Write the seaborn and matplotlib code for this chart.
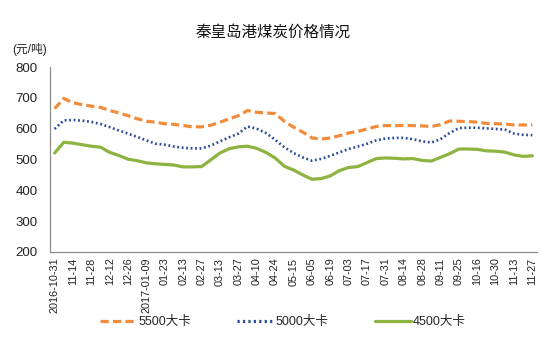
import matplotlib
matplotlib.use("Agg")
import matplotlib.pyplot as plt
import seaborn as sns
import pandas as pd

dates = ["2016-10-31", "11-07", "11-14", "11-21", "11-28", "12-05", "12-12", "12-19", "12-26",
         "2017-01-03", "01-09", "01-16", "01-23", "02-06", "02-13", "02-20", "02-27", "03-06",
         "03-13", "03-20", "03-27", "04-03", "04-10", "04-17", "04-24", "05-08", "05-15",
         "05-22", "06-05", "06-12", "06-19", "06-26", "07-03", "07-10", "07-17", "07-24",
         "07-31", "08-07", "08-14", "08-21", "08-28", "09-04", "09-11", "09-18", "09-25",
         "10-09", "10-16", "10-23", "10-30", "11-06", "11-13", "11-20", "11-27"]
tick_labels = ["2016-10-31", "11-14", "11-28", "12-12", "12-26", "2017-01-09", "01-23", "02-13",
               "02-27", "03-13", "03-27", "04-10", "04-24", "05-15", "06-05", "06-19", "07-03",
               "07-17", "07-31", "08-14", "08-28", "09-11", "09-25", "10-16", "10-30", "11-13",
               "11-27"]

p5500 = [665, 698, 684, 678, 673, 669, 659, 651, 642, 632, 624, 621, 616, 614, 610, 606, 606,
         611, 621, 632, 642, 659, 653, 651, 649, 624, 605, 589, 570, 566, 570, 577, 586, 591,
         599, 607, 610, 610, 610, 610, 609, 607, 613, 625, 624, 623, 621, 617, 616, 615, 612,
         612, 612]
p5000 = [599, 627, 628, 626, 622, 615, 605, 594, 584, 573, 562, 551, 548, 542, 538, 536, 536,
         545, 559, 572, 584, 607, 600, 586, 564, 540, 521, 507, 496, 502, 512, 523, 534, 542,
         551, 562, 568, 570, 570, 566, 559, 555, 566, 586, 602, 603, 603, 601, 599, 597, 584,
         580, 579]
p4500 = [521, 556, 553, 548, 543, 540, 523, 513, 501, 496, 489, 486, 484, 482, 476, 476, 477,
         499, 521, 535, 541, 543, 536, 523, 505, 478, 466, 450, 436, 438, 447, 464, 474, 477,
         490, 503, 505, 504, 502, 503, 497, 495, 507, 519, 534, 534, 533, 528, 527, 524, 515,
         510, 512]
series_names = ["5500大卡", "5000大卡", "4500大卡"]

df = pd.DataFrame({
    "date": dates * 3,
    "price": p5500 + p5000 + p4500,
    "series": [series_names[0]] * len(dates) + [series_names[1]] * len(dates) + [series_names[2]] * len(dates),
})

sns.set_style("white")
plt.rcParams["font.family"] = ["Liberation Sans", "Noto Sans CJK SC"]

fig = plt.figure(figsize=(5.58, 3.44), dpi=100)
ax = fig.add_axes([50 / 558, 1 - 252 / 344, 487 / 558, 185 / 344])

palette = {series_names[0]: "#F08C3C", series_names[1]: "#2B4C9B", series_names[2]: "#8CB440"}
dashes = {series_names[0]: (2.6, 1.3), series_names[1]: (0.7, 1.0), series_names[2]: ""}
sns.lineplot(data=df, x="date", y="price", hue="series", style="series", palette=palette,
             dashes=dashes, ax=ax, linewidth=2.3, sort=False, legend=True)
lines = ax.get_lines()
lines[1].set_linewidth(1.9)

ax.set_xlim(-0.5, len(dates) - 0.5)
ax.set_ylim(200, 800)
ax.set_yticks(range(200, 801, 100))
ax.set_xticks(range(0, len(dates), 2))
ax.set_xticklabels(tick_labels, rotation=90, fontsize=7.8, color="#222222")
ax.set_xticks([i + 0.5 for i in range(0, len(dates), 2)], minor=True)
ax.tick_params(axis="x", which="major", length=0, pad=4)
ax.tick_params(axis="x", which="minor", length=3.5, color="#8c8c8c", width=0.8, direction="out")
ax.tick_params(axis="y", length=3, color="#8c8c8c", width=0.8, direction="out", labelsize=9.5,
               labelcolor="#222222", pad=6)
ax.set_xlabel("")
ax.set_ylabel("")
for s in ["top", "right"]:
    ax.spines[s].set_visible(False)
for s in ["left", "bottom"]:
    ax.spines[s].set_color("#8c8c8c")
    ax.spines[s].set_linewidth(0.9)
ax.grid(False)

handles, labels = ax.get_legend_handles_labels()
ax.legend_.remove()
fig.legend(handles, labels, loc="center", bbox_to_anchor=(0.507, 1 - 322 / 344), ncol=3,
           frameon=False, fontsize=9, handlelength=2.9, handletextpad=0.15, columnspacing=3.7)

fig.text(273 / 558, 1 - 32 / 344, "秦皇岛港煤炭价格情况", ha="center", va="center", fontsize=11.2,
         color="#111111")
fig.text(12 / 558, 1 - 50 / 344, "(元/吨)", ha="left", va="center", fontsize=8.5, color="#222222")

fig.savefig("out.png", dpi=100)
